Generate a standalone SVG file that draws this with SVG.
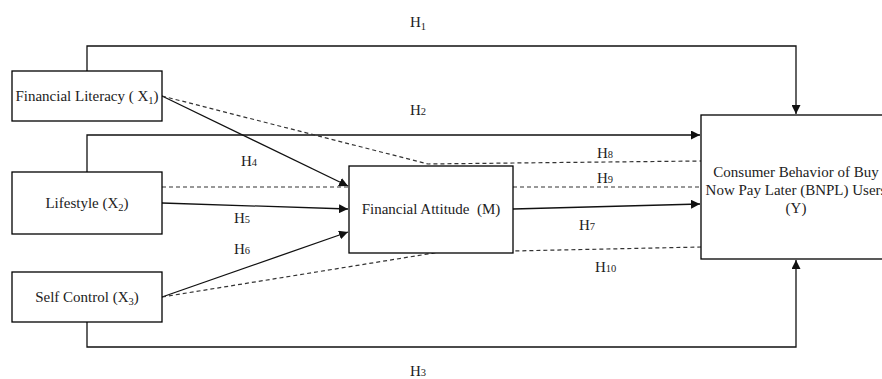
<svg xmlns="http://www.w3.org/2000/svg" width="882" height="379" viewBox="0 0 882 379">
<defs>
<style>
.box{fill:#fff;stroke:#000;stroke-width:1.3}
.t{font-family:"Liberation Serif","Times New Roman",serif;font-size:15px;fill:#222}
.c{text-anchor:middle}
.s{font-size:10.5px}
.ln{fill:none;stroke:#111;stroke-width:1.3}
.dl{fill:none;stroke:#333;stroke-width:1.2;stroke-dasharray:4 3}
</style>
<marker id="ah" viewBox="0 0 10 10" refX="10" refY="5" markerWidth="9" markerHeight="9" markerUnits="userSpaceOnUse" orient="auto">
<path d="M0,0 L10,5 L0,10 z" fill="#111"/>
</marker>
</defs>
<rect width="882" height="379" fill="#fff"/>
<g id="connectors">
<path class="ln" d="M87,71 V46 H796 V114" marker-end="url(#ah)"/>
<path class="ln" d="M87,172 V135 H700" marker-end="url(#ah)"/>
<path class="ln" d="M87,322 V347 H796 V260" marker-end="url(#ah)"/>
<path class="ln" d="M162,96 L348,186" marker-end="url(#ah)"/>
<path class="ln" d="M162,203 L348,209" marker-end="url(#ah)"/>
<path class="ln" d="M162,297 L348,232" marker-end="url(#ah)"/>
<path class="ln" d="M513,209 L700,204" marker-end="url(#ah)"/>
<path class="dl" d="M162,96 L428,164 L513,163 L701,161"/>
<path class="dl" d="M162,187 H349 M513,187 H701"/>
<path class="dl" d="M162,297 L440,252 L513,251 L701,247"/>
</g>
<g id="X1">
<rect class="box" x="12" y="71" width="150" height="50"/>
<text class="t c" x="87" y="101">Financial Literacy ( X<tspan class="s" dy="3">1</tspan><tspan dy="-3">)</tspan></text>
</g>
<g id="X2">
<rect class="box" x="12" y="172" width="150" height="62"/>
<text class="t c" x="87" y="208">Lifestyle (X<tspan class="s" dy="3">2</tspan><tspan dy="-3">)</tspan></text>
</g>
<g id="X3">
<rect class="box" x="12" y="272" width="150" height="50"/>
<text class="t c" x="87" y="302">Self Control (X<tspan class="s" dy="3">3</tspan><tspan dy="-3">)</tspan></text>
</g>
<g id="M">
<rect class="box" x="349" y="166" width="164" height="87"/>
<text class="t c" x="431" y="214" xml:space="preserve">Financial Attitude  (M)</text>
</g>
<g id="Y">
<rect class="box" x="701" y="115" width="220" height="144"/>
<text class="t c" x="796" y="177">Consumer Behavior of Buy</text>
<text class="t c" x="796" y="195">Now Pay Later (BNPL) Users</text>
<text class="t c" x="796" y="213">(Y)</text>
</g>
<g id="labels">
<text class="t" x="410" y="27">H<tspan class="s" dy="3">1</tspan></text>
<text class="t" x="410" y="115">H<tspan class="s">2</tspan></text>
<text class="t" x="241" y="166">H<tspan class="s">4</tspan></text>
<text class="t" x="597" y="158">H<tspan class="s">8</tspan></text>
<text class="t" x="597" y="183">H<tspan class="s">9</tspan></text>
<text class="t" x="234" y="223">H<tspan class="s">5</tspan></text>
<text class="t" x="234" y="254">H<tspan class="s">6</tspan></text>
<text class="t" x="579" y="230">H<tspan class="s">7</tspan></text>
<text class="t" x="595" y="272">H<tspan class="s">10</tspan></text>
<text class="t" x="410" y="376">H<tspan class="s">3</tspan></text>
</g>
</svg>
